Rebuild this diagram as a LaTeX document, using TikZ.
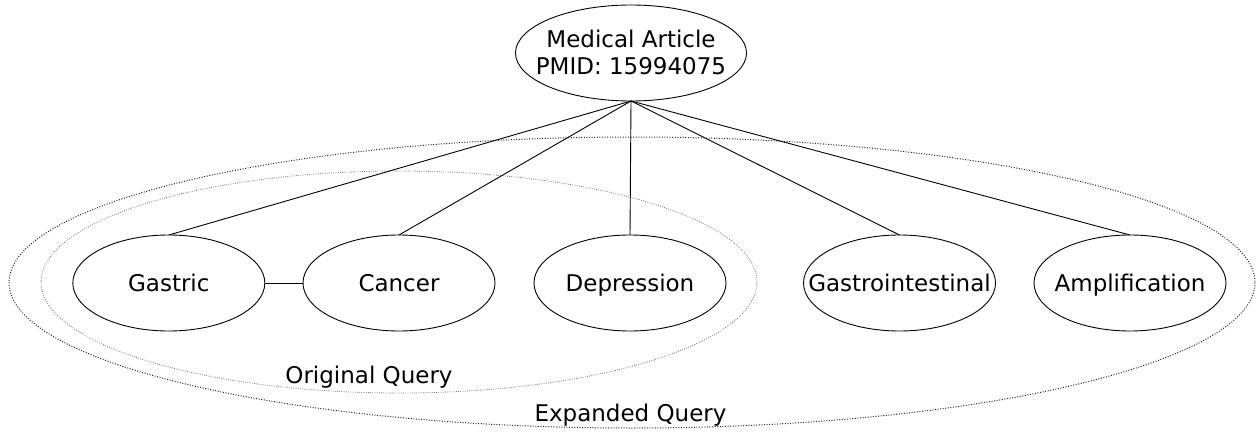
\documentclass[tikz,border=0pt]{standalone}
\usepackage{fontspec}
\setmainfont{DejaVu Sans}
\usetikzlibrary{shapes.geometric}
\tikzset{
  term/.style={draw, ellipse, line width=0.9pt, inner sep=0pt, outer sep=0pt,
    minimum width=192pt, minimum height=96pt, text height=16.5pt, text depth=0pt},
  article/.style={draw, ellipse, line width=0.9pt, inner sep=0pt, outer sep=0pt,
    minimum width=231pt, minimum height=96pt},
  link/.style={line width=0.9pt},
  outerq/.style={line width=1pt, dash pattern=on 1pt off 1.6pt, black!85},
  innerq/.style={line width=0.8pt, dash pattern=on 0.8pt off 1.4pt, black!55},
  qlabel/.style={anchor=base, inner sep=0pt}
}
\begin{document}
\begin{tikzpicture}[x=1pt, y=-1pt, font=\fontsize{23}{27}\selectfont]
\useasboundingbox (0,0) rectangle (1257,433);
% query regions
\draw[outerq] (632,282.5) ellipse [x radius=623, y radius=145.5];
\draw[innerq] (399,282) ellipse [x radius=358, y radius=111];
\node[qlabel] (oq) at (369,383.3) {Original Query};
\node[qlabel] (eq) at (630.5,421.7) {Expanded Query};
% article
\node[article] (art) at (631,53) {\makebox[0pt]{\raisebox{-9pt}[0pt][0pt]{\begin{tabular}{@{}c@{}}Medical Article\\PMID: 15994075\end{tabular}}}};
% terms
\node[term] (g) at (168.8,283) {\makebox[0pt]{Gastric}};
\node[term] (c) at (399,283) {\makebox[0pt]{Cancer}};
\node[term] (d) at (630,283) {\makebox[0pt]{Depression}};
\node[term] (gi) at (899.5,283) {\makebox[0pt]{Gastrointestinal}};
\node[term] (am) at (1130,283) {\makebox[0pt]{Amplification}};
% links
\draw[link] (art.south) -- (g.north);
\draw[link] (art.south) -- (c.north);
\draw[link] (art.south) -- (d.north);
\draw[link] (art.south) -- (gi.north);
\draw[link] (art.south) -- (am.north);
\draw[link] (g) -- (c);
\end{tikzpicture}
\end{document}
